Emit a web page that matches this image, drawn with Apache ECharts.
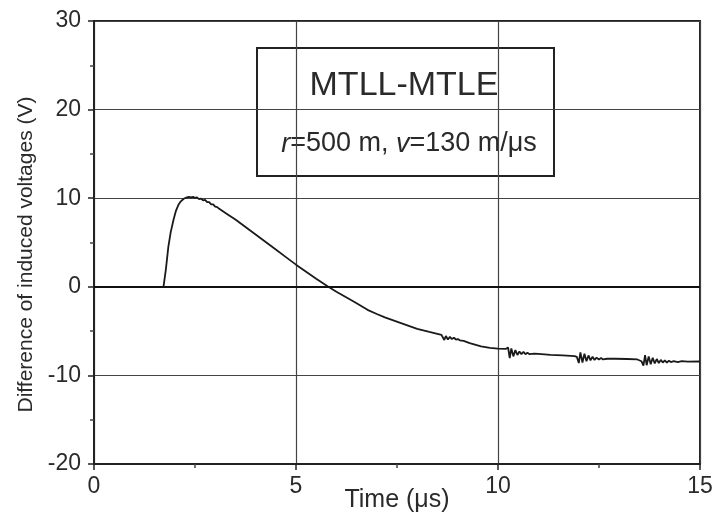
<!DOCTYPE html>
<html>
<head>
<meta charset="utf-8">
<script src="https://cdn.jsdelivr.net/npm/echarts@6/dist/echarts.min.js"></script>
<style>
  html, body { margin: 0; padding: 0; background: #fff; }
  #chart { width: 717px; height: 515px; }
</style>
</head>
<body>
<div id="chart"></div>
<script>
// time axis (µs) and voltage difference (V)
const timeUs = [
  0, 1.72, 1.78, 1.84, 1.9, 1.97, 2.03, 2.09, 2.15, 2.22, 2.3, 2.35, 2.4, 2.45, 2.5,
  2.55, 2.6, 2.65, 2.7, 2.75, 2.8, 2.85, 2.9, 2.95, 3.0, 3.05, 3.1, 3.2, 3.3, 3.5,
  3.75, 4.0, 4.25, 4.5, 4.75, 5.0, 5.25, 5.5, 5.8, 6.0, 6.35, 6.5, 6.77, 7.0, 7.2,
  7.6, 8.0, 8.3, 8.6,
  8.63, 8.67, 8.71, 8.76, 8.81, 8.86, 8.91, 8.96, 9.01, 9.06, 9.15, 9.3, 9.58, 9.8,
  10.0, 10.2,
  10.25, 10.29, 10.33, 10.38, 10.43, 10.48, 10.53, 10.58, 10.63, 10.68, 10.73, 10.78,
  10.9, 11.0, 11.3, 11.6, 11.9,
  11.95, 12.0, 12.04, 12.09, 12.14, 12.19, 12.24, 12.29, 12.34, 12.39, 12.44, 12.5,
  12.55, 12.6, 12.7, 12.9, 13.2, 13.45, 13.55,
  13.6, 13.64, 13.68, 13.73, 13.78, 13.83, 13.88, 13.93, 13.98, 14.03, 14.08, 14.13,
  14.18, 14.23, 14.28, 14.35, 14.45, 14.55, 14.7, 15.0
];
const voltDiff = [
  0, 0, 2.0, 4.5, 6.2, 7.6, 8.6, 9.25, 9.65, 9.94, 10.1, 10.15, 10.1, 10.15, 10.05,
  10.1, 9.9, 9.95, 9.75, 9.8, 9.55, 9.55, 9.3, 9.3, 9.05, 9.0, 8.8, 8.5, 8.2, 7.6,
  6.75, 5.9, 5.05, 4.2, 3.35, 2.5, 1.7, 0.9, 0, -0.55, -1.47, -1.85, -2.6, -3.07, -3.45,
  -4.1, -4.74, -5.1, -5.42,
  -5.3, -6.0, -5.55, -5.95, -5.65, -5.9, -5.75, -5.95, -5.9, -6.05, -6.1, -6.35, -6.73, -6.9,
  -6.97, -7.0,
  -6.85, -8.05, -6.95, -7.85, -7.15, -7.7, -7.3, -7.6, -7.35, -7.6, -7.45, -7.6,
  -7.55, -7.58, -7.68, -7.75, -7.82,
  -7.9, -8.6, -7.4, -8.55, -7.55, -8.4, -7.75, -8.3, -7.9, -8.25, -8.0, -8.2,
  -8.05, -8.2, -8.12, -8.12, -8.15, -8.2, -8.4,
  -8.9, -7.7, -8.85, -7.85, -8.75, -8.0, -8.65, -8.15, -8.6, -8.25, -8.55, -8.3,
  -8.55, -8.35, -8.5, -8.4, -8.5, -8.4, -8.45, -8.43
];

const xTicks = [0, 5, 10, 15];
const yTicks = [-20, -10, 0, 10, 20, 30];

const xTitle = 'Time (μs)';
const yTitle = 'Difference of induced voltages (V)';
const boxTitle = 'MTLL-MTLE';

const FONT = '"Liberation Sans", Arial, sans-serif';
const TEXT_COLOR = '#2a2a2a';

const chart = echarts.init(document.getElementById('chart'), null, { renderer: 'canvas' });

const seriesData = timeUs.map((t, i) => [t, voltDiff[i]]);

const option = {
  backgroundColor: '#fff',
  animation: false,
  textStyle: { fontFamily: FONT },
  grid: {
    left: 94,
    right: 17,
    top: 21,
    bottom: 51,
    containLabel: false,
    outerBoundsMode: 'none',
    show: true,
    borderColor: '#222',
    borderWidth: 2,
    backgroundColor: 'transparent'
  },
  xAxis: {
    type: 'value',
    min: xTicks[0],
    max: xTicks[xTicks.length - 1],
    interval: 5,
    axisLine: { show: true, onZero: false, lineStyle: { color: '#222', width: 2 } },
    axisTick: { show: true, inside: false, length: 6, lineStyle: { color: '#222', width: 1.5 } },
    minorTick: { show: true, splitNumber: 2, length: 4, lineStyle: { color: '#444', width: 1.5 } },
    axisLabel: { fontSize: 23, color: TEXT_COLOR, margin: 11, fontFamily: FONT },
    splitLine: { show: true, lineStyle: { color: '#444', width: 1.2 } }
  },
  yAxis: {
    type: 'value',
    min: yTicks[0],
    max: yTicks[yTicks.length - 1],
    interval: 10,
    name: yTitle,
    nameLocation: 'middle',
    nameGap: 52,
    nameRotate: 90,
    nameTextStyle: { fontSize: 21, color: TEXT_COLOR, fontFamily: FONT, padding: [0, 24, 0, 0] },
    axisLine: { show: true, onZero: false, lineStyle: { color: '#222', width: 2 } },
    axisTick: { show: true, inside: false, length: 6, lineStyle: { color: '#222', width: 1.5 } },
    minorTick: { show: true, splitNumber: 2, length: 4, lineStyle: { color: '#444', width: 1.5 } },
    axisLabel: { fontSize: 23, color: TEXT_COLOR, margin: 13, fontFamily: FONT },
    splitLine: { show: true, lineStyle: { color: '#444', width: 1.2 } }
  },
  series: [
    {
      type: 'line',
      data: seriesData,
      showSymbol: false,
      symbol: 'none',
      smooth: false,
      lineStyle: { color: '#1a1a1a', width: 1.8 },
      markLine: {
        silent: true,
        symbol: ['none', 'none'],
        label: { show: false },
        lineStyle: { color: '#111', width: 2, type: 'solid' },
        data: [{ yAxis: 0 }]
      },
      z: 3
    }
  ],
  graphic: [
    {
      // x axis title, sits a little below the tick labels as in the figure
      type: 'text',
      x: 397,
      y: 500,
      style: {
        text: xTitle,
        font: '25px ' + FONT,
        fill: TEXT_COLOR,
        align: 'center',
        verticalAlign: 'middle'
      }
    },
    {
      type: 'group',
      left: 256,
      top: 47,
      z: 10,
      children: [
        {
          type: 'rect',
          shape: { x: 0, y: 0, width: 297, height: 128 },
          style: { fill: '#fff', stroke: '#222', lineWidth: 2 }
        },
        {
          type: 'text',
          x: 147,
          y: 38,
          style: {
            text: boxTitle,
            font: '34px ' + FONT,
            fill: TEXT_COLOR,
            align: 'center',
            verticalAlign: 'middle'
          }
        },
        {
          type: 'text',
          x: 152,
          y: 96,
          style: {
            text: '{i|r}=500 m, {i|v}=130 m/μs',
            font: '27px ' + FONT,
            fill: TEXT_COLOR,
            align: 'center',
            verticalAlign: 'middle',
            rich: {
              i: { fontStyle: 'italic', fontSize: 27, fontFamily: FONT, fill: TEXT_COLOR }
            }
          }
        }
      ]
    }
  ]
};

chart.setOption(option);
window.addEventListener('resize', () => chart.resize());
</script>
</body>
</html>
